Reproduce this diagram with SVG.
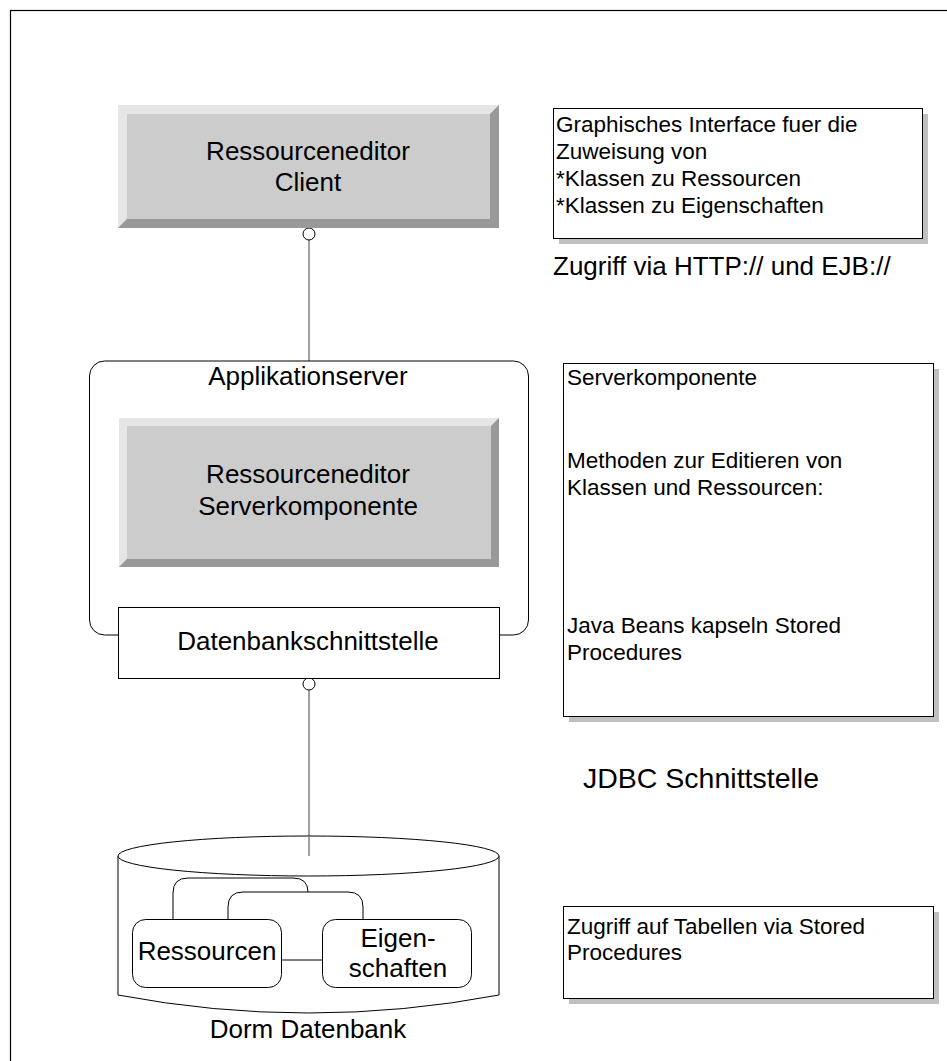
<svg xmlns="http://www.w3.org/2000/svg" width="947" height="1061" viewBox="0 0 947 1061">
  <style>
    text { font-family: "Liberation Sans", Arial, sans-serif; fill: #000; }
    .big { font-size: 26px; }
    .note { font-size: 22.5px; }
    .mid { text-anchor: middle; }
    .conn { stroke: #808080; stroke-width: 1.5; fill: none; }
    .lolly { fill: #fff; stroke: #000; stroke-width: 1; }
    .plain { fill: #fff; stroke: #000; stroke-width: 1; }
    .shadow { fill: #c0c0c0; }
    .bevel-face { fill: #cccccc; }
    .bevel-light { fill: #e6e6e6; }
    .bevel-dark { fill: #999999; }
  </style>

  <!-- page frame -->
  <rect x="10.5" y="10.5" width="1000" height="1100" fill="#fff" stroke="#000" stroke-width="1.2"/>

  <!-- connectors: interface lollipops -->
  <g id="connectors">
    <line class="conn" x1="309" y1="240" x2="309" y2="361"/>
    <circle class="lolly" cx="309" cy="234" r="6"/>
    <line class="conn" x1="309" y1="690" x2="309" y2="856"/>
    <circle class="lolly" cx="309" cy="684" r="6"/>
  </g>

  <!-- client component -->
  <g id="client">
    <rect class="bevel-face" x="118" y="105" width="381" height="123"/>
    <polygon class="bevel-light" points="118,105 499,105 490,114 127,114 127,219 118,228"/>
    <polygon class="bevel-dark" points="499,105 499,228 118,228 127,219 490,219 490,114"/>
    <text class="big mid" x="308" y="160">Ressourceneditor</text>
    <text class="big mid" x="308" y="191">Client</text>
  </g>

  <!-- application server container -->
  <g id="appserver">
    <rect x="89.5" y="361" width="439" height="274" rx="15" ry="15" fill="#fff" stroke="#000" stroke-width="1"/>
    <text class="big mid" x="308" y="385">Applikationserver</text>
  </g>

  <!-- server component -->
  <g id="server">
    <rect class="bevel-face" x="119" y="418" width="380" height="149"/>
    <polygon class="bevel-light" points="119,418 499,418 491,426 127,426 127,559 119,567"/>
    <polygon class="bevel-dark" points="499,418 499,567 119,567 127,559 491,559 491,426"/>
    <text class="big mid" x="308" y="483">Ressourceneditor</text>
    <text class="big mid" x="308" y="515">Serverkomponente</text>
  </g>

  <!-- database interface -->
  <g id="dbinterface">
    <rect class="plain" x="118.5" y="607.5" width="381" height="71"/>
    <text class="big mid" x="308" y="650">Datenbankschnittstelle</text>
  </g>

  <!-- database cylinder -->
  <g id="database">
    <path d="M118,856 L118,995 Q308.5,1031 499,995 L499,856" fill="#fff" stroke="#000" stroke-width="1"/>
    <ellipse cx="308.5" cy="856" rx="190.5" ry="20" fill="#fff" stroke="#000" stroke-width="1"/>
    <line class="conn" x1="309" y1="836" x2="309" y2="856"/>
    <!-- relation loops -->
    <path d="M173,919 L173,893 Q173,878 188,878 L293,878 Q308,878 308,892" fill="none" stroke="#000" stroke-width="1"/>
    <path d="M228,919 L228,907 Q228,892 243,892 L348,892 Q363,892 363,907 L363,919" fill="none" stroke="#000" stroke-width="1"/>
    <line x1="282" y1="960" x2="322" y2="960" stroke="#000" stroke-width="1"/>
    <text class="big mid" x="308" y="1038">Dorm Datenbank</text>
  </g>

  <g id="ressourcen">
    <rect class="plain" x="132.5" y="919.5" width="149" height="68" rx="13" ry="13"/>
    <text class="big mid" x="207" y="960">Ressourcen</text>
  </g>

  <g id="eigenschaften">
    <rect class="plain" x="322.5" y="919.5" width="149" height="68" rx="13" ry="13"/>
    <text class="big mid" x="398" y="947">Eigen-</text>
    <text class="big mid" x="398" y="977">schaften</text>
  </g>

  <!-- notes -->
  <g id="note-client">
    <rect class="shadow" x="559" y="114" width="369" height="130"/>
    <rect class="plain" x="553.5" y="108.5" width="369" height="130"/>
    <text class="note" x="556" y="132">Graphisches Interface fuer die</text>
    <text class="note" x="556" y="159">Zuweisung von</text>
    <text class="note" x="556" y="186">*Klassen zu Ressourcen</text>
    <text class="note" x="556" y="213">*Klassen zu Eigenschaften</text>
  </g>

  <g id="label-http">
    <text class="big" x="553" y="275">Zugriff via HTTP:// und EJB://</text>
  </g>

  <g id="note-server">
    <rect class="shadow" x="569" y="369" width="370" height="353"/>
    <rect class="plain" x="563.5" y="363.5" width="370" height="353"/>
    <text class="note" x="567" y="385">Serverkomponente</text>
    <text class="note" x="567" y="468">Methoden zur Editieren von</text>
    <text class="note" x="567" y="495">Klassen und Ressourcen:</text>
    <text class="note" x="567" y="633">Java Beans kapseln Stored</text>
    <text class="note" x="567" y="660">Procedures</text>
  </g>

  <g id="label-jdbc">
    <text x="583" y="788" style="font-size:28.5px">JDBC Schnittstelle</text>
  </g>

  <g id="note-db">
    <rect class="shadow" x="569" y="912" width="370" height="92"/>
    <rect class="plain" x="563.5" y="906.5" width="370" height="92"/>
    <text class="note" x="567" y="934">Zugriff auf Tabellen via Stored</text>
    <text class="note" x="567" y="960">Procedures</text>
  </g>
</svg>
